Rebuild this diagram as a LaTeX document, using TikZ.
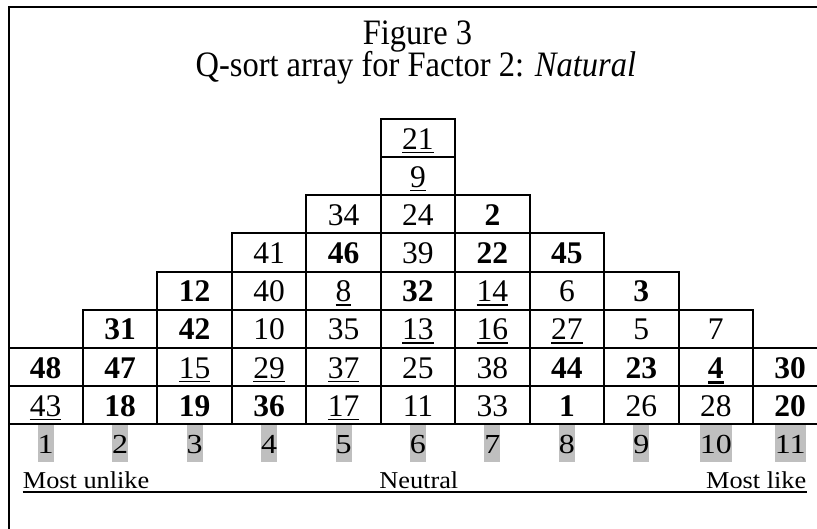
\documentclass[tikz,border=0pt]{standalone}
\usepackage{fontspec}
\setmainfont{Liberation Serif}
\newcommand\myul[1]{\setbox0\hbox{#1}\rlap{\rule[-4.2pt]{\wd0}{1.6pt}}\box0}
\newcommand\myulb[1]{\setbox0\hbox{#1}\rlap{\rule[-6.3pt]{\wd0}{3.6pt}}\box0}
\begin{document}
\begin{tikzpicture}[x=1pt,y=-1pt,
  rule/.style={line width=2pt},
  cell/.style={draw,line width=2pt,minimum width=74.45pt,minimum height=38.15pt,
    inner sep=0pt,text height=26pt,text depth=3.85pt,
    font=\fontsize{31.5}{36}\selectfont},
  collab/.style={fill=black!25,inner sep=0pt,minimum height=36.7pt,
    text height=22pt,text depth=2.1pt,font=\fontsize{32}{36}\selectfont},
  titletext/.style={inner sep=0pt,font=\fontsize{32.5}{36}\selectfont},
  bottext/.style={inner sep=0pt,font=\fontsize{26.3}{30}\selectfont}]
\useasboundingbox (0,0) rectangle (817,529);
% frame
\coordinate (fTR) at (817,7);
\coordinate (fTL) at (8.5,7);
\coordinate (fBL) at (8.5,529);
\draw[rule] (fTR) -- (fTL) -- (fBL);
% title
\node[titletext,anchor=base] (t1) at (417.5,44.3) {\scalebox{1}[1.1]{Figure 3}};
\node[titletext,anchor=base] (t2) at (415.8,77) {\scalebox{1}[1.1]{Q-sort array for Factor 2: \textit{Natural}}};
% cells
\foreach \r/\k/\t in {
  1/6/{\myul{21}},
  2/6/{\myul{9}},
  3/5/{34}, 3/6/{24}, 3/7/{\textbf{2}},
  4/4/{41}, 4/5/{\textbf{46}}, 4/6/{39}, 4/7/{\textbf{22}}, 4/8/{\textbf{45}},
  5/3/{\textbf{12}}, 5/4/{40}, 5/5/{\myul{8}}, 5/6/{\textbf{32}}, 5/7/{\myul{14}}, 5/8/{6}, 5/9/{\textbf{3}},
  6/2/{\textbf{31}}, 6/3/{\textbf{42}}, 6/4/{10}, 6/5/{35}, 6/6/{\myul{13}}, 6/7/{\myul{16}}, 6/8/{\myul{27}}, 6/9/{5}, 6/10/{7},
  7/1/{\textbf{48}}, 7/2/{\textbf{47}}, 7/3/{\myul{15}}, 7/4/{\myul{29}}, 7/5/{\myul{37}}, 7/6/{25}, 7/7/{38}, 7/8/{\textbf{44}}, 7/9/{\textbf{23}}, 7/10/{\myulb{\textbf{4}}}, 7/11/{\textbf{30}},
  8/1/{\myul{43}}, 8/2/{\textbf{18}}, 8/3/{\textbf{19}}, 8/4/{\textbf{36}}, 8/5/{\myul{17}}, 8/6/{11}, 8/7/{33}, 8/8/{\textbf{1}}, 8/9/{26}, 8/10/{28}, 8/11/{\textbf{20}}}
  \node[cell] (c\r-\k) at ({45.725+74.45*(\k-1)},{138.075+38.15*(\r-1)}) {\t};
% column labels
\foreach \k in {1,...,11}
  \node[collab] (lab\k) at ({45.725+74.45*(\k-1)},443.35) {\scalebox{1}[0.86]{\k}};
% bottom labels
\node[bottext,anchor=base west] (mu) at (22.7,488.3) {\scalebox{1}[0.92]{Most unlike}};
\node[bottext,anchor=base] (ne) at (418.8,488.3) {\scalebox{1}[0.92]{Neutral}};
\node[bottext,anchor=base east] (ml) at (806.5,488.3) {\scalebox{1}[0.92]{Most like}};
\coordinate (ulL) at (22.7,492.3);
\coordinate (ulR) at (806.7,492.3);
\draw[rule] (ulL) -- (ulR);
\end{tikzpicture}
\end{document}
